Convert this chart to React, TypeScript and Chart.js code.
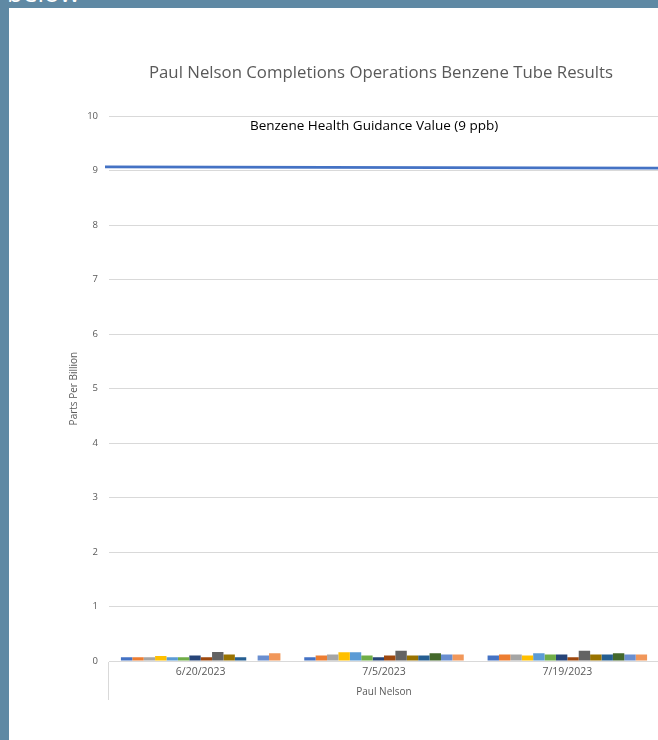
import React, { useEffect, useRef } from "react";
import { Chart, registerables } from "chart.js";

Chart.register(...registerables);

const categories = ["6/20/2023", "7/5/2023", "7/19/2023"];
const groupLabel = "Paul Nelson";
const chartTitle = "Paul Nelson Completions Operations Benzene Tube Results";
const yAxisTitle = "Parts Per Billion";
const guidanceLabel = "Benzene Health Guidance Value (9 ppb)";
// guidance line value at its left and right ends (ppb)
const guidanceValues = [9.07, 9.045];
const guidanceLabelValue = 9.82;

const seriesColors = [
  "#4472C4", "#ED7D31", "#A5A5A5", "#FFC000", "#5B9BD5", "#70AD47", "#264478",
  "#9E480E", "#636363", "#997300", "#255E91", "#43682B", "#698ED0", "#F1975A",
];
const seriesNames = [
  "Tube 1", "Tube 2", "Tube 3", "Tube 4", "Tube 5", "Tube 6", "Tube 7",
  "Tube 8", "Tube 9", "Tube 10", "Tube 11", "Tube 12", "Tube 13", "Tube 14",
];
// values per series: [6/20, 7/5, 7/19]
const seriesValues: (number | null)[][] = [
  [0.07, 0.07, 0.1],
  [0.07, 0.1, 0.12],
  [0.07, 0.12, 0.12],
  [0.09, 0.16, 0.1],
  [0.07, 0.16, 0.14],
  [0.07, 0.1, 0.12],
  [0.1, 0.07, 0.12],
  [0.07, 0.1, 0.07],
  [0.165, 0.19, 0.19],
  [0.12, 0.1, 0.12],
  [0.07, 0.1, 0.12],
  [null, 0.14, 0.14],
  [0.1, 0.12, 0.12],
  [0.14, 0.12, 0.12],
];
const yTicks = { min: 0, max: 10, step: 1 };

const FONT = "'Open Sans', 'DejaVu Sans', sans-serif";

const guidancePlugin = {
  id: "guidance",
  afterDatasetsDraw(chart: any) {
    const { ctx, scales, chartArea } = chart;
    const y0 = scales.y.getPixelForValue(guidanceValues[0]);
    const y1 = scales.y.getPixelForValue(guidanceValues[1]);
    ctx.save();
    ctx.strokeStyle = "#4472C4";
    ctx.lineWidth = 2.8;
    ctx.beginPath();
    ctx.moveTo(chartArea.left - 4, y0);
    ctx.lineTo(chartArea.right, y1);
    ctx.stroke();
    const lx = chartArea.left + 0.482 * (chartArea.right - chartArea.left);
    const ly = scales.y.getPixelForValue(guidanceLabelValue);
    ctx.font = `13.5px ${FONT}`;
    ctx.fillStyle = "#000000";
    ctx.textAlign = "center";
    ctx.textBaseline = "middle";
    ctx.fillText(guidanceLabel, lx, ly);
    ctx.restore();
  },
};

const CANVAS_W = 744;
const CANVAS_H = 732;

export default function App() {
  const ref = useRef<HTMLCanvasElement | null>(null);

  useEffect(() => {
    document.body.style.margin = "0";
    document.body.style.background = "#5f89a4";
    if (!ref.current) return;
    const barSets = seriesValues.map((vals, i) => ({
      label: seriesNames[i],
      data: vals,
      backgroundColor: seriesColors[i],
      borderWidth: 0,
      categoryPercentage: 0.87,
      barPercentage: 1.0,
    }));
    const chart = new Chart(ref.current, {
      type: "bar",
      data: {
        labels: categories,
        datasets: barSets,
      },
      plugins: [guidancePlugin],
      options: {
        animation: false,
        responsive: false,
        maintainAspectRatio: false,
        layout: { padding: { left: 0, right: 0, top: 0, bottom: 40 } },
        plugins: {
          legend: { display: false },
          tooltip: { enabled: false },
          title: {
            display: true,
            text: chartTitle,
            color: "#595959",
            font: { family: FONT, size: 16.8, weight: "normal" },
            padding: { top: 55, bottom: 33 },
          },
        },
        scales: {
          x: {
            type: "category",
            offset: true,
            grid: {
              display: true,
              drawOnChartArea: false,
              drawTicks: true,
              tickLength: 39,
              offset: true,
              color: (c: any) => (c.index === 0 || c.index === categories.length ? "#d9d9d9" : "rgba(0,0,0,0)"),
            },
            border: { display: true, color: "#d9d9d9" },
            ticks: {
              color: "#595959",
              font: { family: FONT, size: 10.5 },
              padding: -34,
              maxRotation: 0,
            },
            title: {
              display: true,
              text: groupLabel,
              color: "#595959",
              font: { family: FONT, size: 10 },
              padding: { top: 0, bottom: 2 },
            },
            afterFit: (s: any) => {
              s.height = 39;
            },
          },
          y: {
            type: "linear",
            min: yTicks.min,
            max: yTicks.max,
            ticks: {
              stepSize: yTicks.step,
              color: "#595959",
              font: { family: FONT, size: 9.5 },
              padding: 11,
            },
            grid: { color: "#d9d9d9", drawTicks: false },
            border: { display: false },
            title: {
              display: true,
              text: yAxisTitle,
              color: "#595959",
              font: { family: FONT, size: 10 },
              padding: { top: 59, bottom: 0 },
            },
            afterFit: (s: any) => {
              s.width = 100;
            },
          },
          yRight: {
            type: "linear",
            position: "right",
            min: yTicks.min,
            max: yTicks.max,
            grid: { display: false, drawTicks: false },
            border: { display: false },
            ticks: { display: false },
            afterFit: (s: any) => {
              s.width = 94;
            },
          },
        },
      } as any,
    });
    return () => chart.destroy();
  }, []);

  return (
    <div style={{ position: "relative", width: 658, height: 740, overflow: "hidden", background: "#5f89a4" }}>
      <div
        style={{
          position: "absolute",
          left: 7,
          top: -24,
          color: "#ffffff",
          fontFamily: FONT,
          fontSize: 26,
          lineHeight: "32px",
          whiteSpace: "nowrap",
        }}
      >
        below
      </div>
      <div style={{ position: "absolute", left: 9, top: 8, width: 649, height: 732, background: "#ffffff", overflow: "hidden" }}>
        <canvas ref={ref} width={CANVAS_W} height={CANVAS_H} style={{ display: "block", width: CANVAS_W, height: CANVAS_H }} />
      </div>
    </div>
  );
}
